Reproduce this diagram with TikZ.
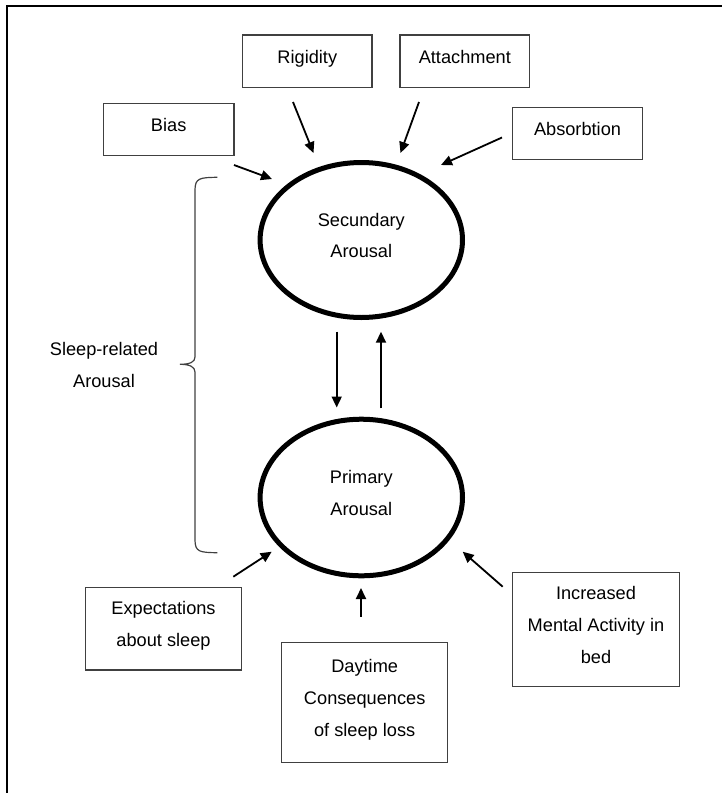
\documentclass[tikz,border=0pt]{standalone}
\usepackage{fontspec}
\setmainfont{Liberation Sans}
\usetikzlibrary{shapes.geometric,arrows.meta}
\newcommand{\sk}{\rule[-9.5pt]{0pt}{22.7pt}}
\tikzset{
  box/.style={draw=black!75, line width=1.2pt, rectangle, inner sep=0pt, align=center,
    font=\fontsize{18.2}{31.7}\selectfont},
  oval/.style={draw=black, line width=5pt, ellipse, inner sep=0pt, align=center,
    minimum width=202.4pt, font=\fontsize{18.2}{31.7}\selectfont},
  lbl/.style={inner sep=0pt, align=center, font=\fontsize{18.2}{31.7}\selectfont},
  arr/.style={line width=1.8pt, -{Triangle[length=11pt,width=10pt]}},
}
\begin{document}
\begin{tikzpicture}[x=1pt,y=-1pt]
\useasboundingbox (0,0) rectangle (722,793);
% frame
\draw[line width=2pt] (6.7,800) -- (6.7,6) -- (730,6);

% boxes
\node[box, minimum width=129.4pt, minimum height=52.3pt] (rig) at (307.3,61.2) {\sk Rigidity};
\node[box, minimum width=129.5pt, minimum height=52.3pt] (att) at (464.8,61.2) {\sk Attachment};
\node[box, minimum width=130.7pt, minimum height=52pt] (bias) at (168.7,129.3) {\sk Bias};
\node[box, minimum width=130.3pt, minimum height=52pt] (abs) at (577.5,133.3) {\sk Absorbtion};
\node[box, minimum width=156.5pt, minimum height=82.3pt] (exp) at (163.5,628.8) {\sk Expectations\\\sk about sleep};
\node[box, minimum width=165.7pt, minimum height=119.6pt] (day) at (364.7,702.5) {\sk Daytime\\\sk Consequences\\\sk of sleep loss};
\node[box, minimum width=166.6pt, minimum height=114pt] (inc) at (596,629.7) {\sk Increased\\\sk Mental Activity in\\\sk bed};

% ellipses
\node[oval, minimum height=155pt] (sec) at (361.3,240) {\sk Secundary\\\sk Arousal};
\node[oval, minimum height=156.6pt] (pri) at (361.3,497.5) {\sk Primary\\\sk Arousal};

% brace and label
\draw[draw=black!75, line width=1.2pt] (217.3,177.3) .. controls (200,177.5) and (195,178) .. (195,190)
  -- (195,357) .. controls (195,362) and (190,364.3) .. (180,364.3)
  .. controls (190,364.3) and (195,367) .. (195,372)
  -- (195,540) .. controls (195,552) and (200,552.5) .. (217.3,552.7);
\node[lbl] (sra) at (104,369.9) {\sk Sleep-related\\\sk Arousal};

% arrow end points
\coordinate (biasS) at (234,165);   \coordinate (biasE) at (272,179);
\coordinate (rigS) at (293,102);    \coordinate (rigE) at (313.5,153);
\coordinate (attS) at (419,102);    \coordinate (attE) at (400.5,153);
\coordinate (absS) at (502,137.5);  \coordinate (absE) at (441,165);
\coordinate (dnS) at (336.7,331.7); \coordinate (dnE) at (336.7,407.5);
\coordinate (upS) at (381,408.3);   \coordinate (upE) at (381,331.7);
\coordinate (expS) at (233.3,576.7);\coordinate (expE) at (271.7,551.7);
\coordinate (dayS) at (361,616.7);  \coordinate (dayE) at (361,588);
\coordinate (incS) at (502.7,586.7);\coordinate (incE) at (462.7,551.7);

\draw[arr] (biasS) -- (biasE);
\draw[arr] (rigS) -- (rigE);
\draw[arr] (attS) -- (attE);
\draw[arr] (absS) -- (absE);
\draw[arr] (dnS) -- (dnE);
\draw[arr] (upS) -- (upE);
\draw[arr] (expS) -- (expE);
\draw[arr] (dayS) -- (dayE);
\draw[arr] (incS) -- (incE);
\end{tikzpicture}
\end{document}
